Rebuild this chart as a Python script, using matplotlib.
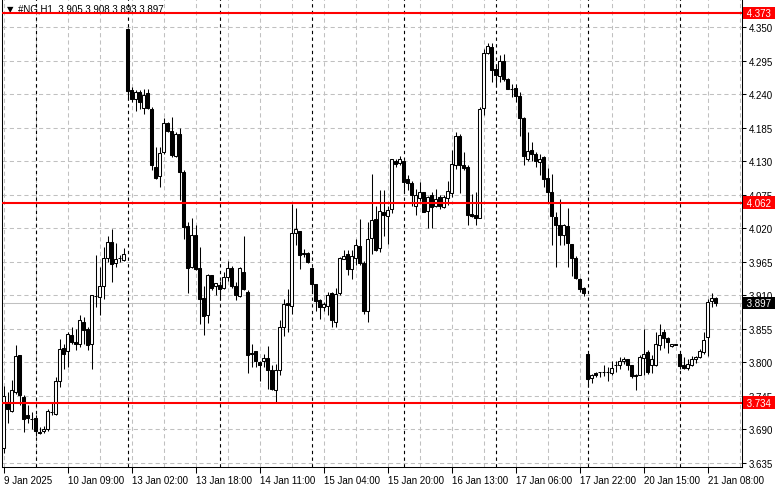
import numpy as np
import pandas as pd
import matplotlib
matplotlib.use("Agg")
import matplotlib.pyplot as plt
import matplotlib.transforms as mtransforms

plt.rcParams['font.family'] = ['Liberation Sans', 'DejaVu Sans']

# NG H1 candles, 9 Jan 16:00 -> 21 Jan 10:00
symbol = "#NG,H1"
opens = [3.660, 3.735, 3.721, 3.751, 3.812, 3.743, 3.713, 3.708, 3.709, 3.686,
         3.687, 3.690, 3.718, 3.716, 3.770, 3.823, 3.819, 3.845, 3.834, 3.830,
         3.867, 3.855, 3.830, 3.909, 3.907, 3.925, 3.971, 3.997, 3.963, 3.971,
         3.968, 4.347, 4.247, 4.232, 4.243, 4.217, 4.242, 4.216, 4.120, 4.106,
         4.145, 4.193, 4.179, 4.138, 4.175, 4.113, 4.024, 3.956, 4.009, 3.955,
         3.905, 3.878, 3.943, 3.926, 3.927, 3.922, 3.940, 3.955, 3.926, 3.909,
         3.949, 3.916, 3.815, 3.818, 3.801, 3.802, 3.807, 3.787, 3.755, 3.787,
         3.858, 3.898, 3.892, 4.012, 4.016, 3.979, 3.980, 3.955, 3.928, 3.902,
         3.891, 3.893, 3.913, 3.866, 3.913, 3.970, 3.977, 3.953, 3.971, 3.991,
         3.963, 3.884, 4.004, 4.035, 3.988, 4.046, 4.040, 4.051, 4.131, 4.127,
         4.130, 4.100, 4.095, 4.057, 4.070, 4.079, 4.048, 4.074, 4.057, 4.072,
         4.055, 4.069, 4.077, 4.123, 4.171, 4.123, 4.120, 4.044, 4.041, 4.037,
         4.217, 4.308, 4.317, 4.281, 4.270, 4.294, 4.265, 4.249, 4.250, 4.237,
         4.201, 4.134, 4.149, 4.142, 4.129, 4.137, 4.102, 4.079, 4.038, 4.025,
         4.009, 4.024, 3.994, 3.971, 3.937, 3.922, 3.814, 3.774, 3.783, 3.784,
         3.784, 3.784, 3.783, 3.795, 3.796, 3.802, 3.805, 3.795, 3.779, 3.780,
         3.807, 3.817, 3.796, 3.795, 3.829, 3.850, 3.840, 3.827, 3.829, 3.814,
         3.795, 3.791, 3.795, 3.805, 3.809, 3.817, 3.841, 3.900, 3.905]
highs = [3.762, 3.751, 3.771, 3.828, 3.812, 3.746, 3.730, 3.719, 3.713, 3.694,
         3.696, 3.724, 3.735, 3.776, 3.839, 3.831, 3.850, 3.858, 3.855, 3.877,
         3.874, 3.858, 3.911, 3.976, 3.956, 3.989, 4.008, 4.018, 3.995, 3.976,
         3.988, 4.348, 4.252, 4.246, 4.247, 4.248, 4.249, 4.219, 4.153, 4.153,
         4.200, 4.194, 4.202, 4.178, 4.184, 4.115, 4.030, 4.036, 4.025, 3.989,
         3.926, 3.945, 3.944, 3.930, 3.934, 3.948, 3.966, 3.958, 3.932, 3.956,
         4.007, 3.918, 3.831, 3.818, 3.803, 3.813, 3.827, 3.795, 3.798, 3.869,
         3.904, 3.921, 4.059, 4.053, 4.016, 3.986, 3.981, 3.956, 3.929, 3.904,
         3.899, 3.916, 3.916, 3.922, 3.973, 3.984, 3.985, 3.984, 4.003, 4.035,
         3.967, 4.031, 4.109, 4.056, 4.082, 4.082, 4.057, 4.134, 4.134, 4.138,
         4.131, 4.107, 4.098, 4.085, 4.096, 4.080, 4.073, 4.080, 4.084, 4.074,
         4.075, 4.097, 4.149, 4.177, 4.175, 4.145, 4.123, 4.076, 4.079, 4.219,
         4.314, 4.324, 4.324, 4.287, 4.304, 4.306, 4.266, 4.257, 4.257, 4.244,
         4.202, 4.177, 4.161, 4.145, 4.142, 4.138, 4.119, 4.109, 4.047, 4.068,
         4.027, 4.053, 3.994, 3.974, 3.938, 3.924, 3.814, 3.781, 3.785, 3.785,
         3.796, 3.792, 3.803, 3.803, 3.809, 3.809, 3.806, 3.795, 3.781, 3.812,
         3.855, 3.820, 3.812, 3.850, 3.863, 3.854, 3.842, 3.831, 3.830, 3.814,
         3.809, 3.805, 3.811, 3.810, 3.822, 3.850, 3.904, 3.913, 3.908]
lows = [3.652, 3.700, 3.719, 3.749, 3.730, 3.686, 3.700, 3.691, 3.680, 3.683,
        3.685, 3.688, 3.713, 3.713, 3.760, 3.790, 3.792, 3.831, 3.820, 3.825,
        3.831, 3.820, 3.789, 3.891, 3.877, 3.904, 3.965, 3.932, 3.956, 3.965,
        3.967, 4.232, 4.227, 4.213, 4.216, 4.208, 4.216, 4.115, 4.101, 4.088,
        4.142, 4.178, 4.137, 4.137, 4.066, 4.003, 3.914, 3.954, 3.951, 3.863,
        3.845, 3.865, 3.918, 3.910, 3.905, 3.921, 3.934, 3.922, 3.902, 3.907,
        3.918, 3.783, 3.792, 3.792, 3.770, 3.792, 3.757, 3.754, 3.735, 3.779,
        3.844, 3.850, 3.880, 3.992, 3.953, 3.973, 3.963, 3.913, 3.885, 3.872,
        3.885, 3.877, 3.858, 3.858, 3.910, 3.969, 3.943, 3.937, 3.959, 3.959,
        3.880, 3.866, 3.977, 3.982, 3.981, 4.008, 3.994, 4.045, 4.120, 4.124,
        4.077, 4.082, 4.056, 4.041, 4.064, 4.046, 4.020, 4.020, 4.055, 4.052,
        4.053, 4.058, 4.071, 4.117, 4.077, 4.115, 4.025, 4.038, 4.025, 4.036,
        4.205, 4.305, 4.260, 4.252, 4.260, 4.261, 4.248, 4.235, 4.227, 4.172,
        4.123, 4.131, 4.131, 4.120, 4.107, 4.088, 4.063, 3.992, 3.956, 3.992,
        3.992, 3.956, 3.942, 3.937, 3.916, 3.909, 3.760, 3.767, 3.776, 3.776,
        3.778, 3.769, 3.780, 3.785, 3.790, 3.798, 3.788, 3.774, 3.754, 3.779,
        3.780, 3.781, 3.783, 3.794, 3.821, 3.823, 3.816, 3.825, 3.828, 3.790,
        3.790, 3.787, 3.794, 3.799, 3.807, 3.813, 3.811, 3.891, 3.893]
closes = [3.745, 3.724, 3.754, 3.811, 3.746, 3.708, 3.709, 3.707, 3.687, 3.685,
          3.691, 3.721, 3.719, 3.769, 3.822, 3.814, 3.847, 3.834, 3.830, 3.869,
          3.853, 3.828, 3.910, 3.909, 3.925, 3.971, 3.997, 3.962, 3.970, 3.972,
          3.978, 4.245, 4.232, 4.244, 4.227, 4.239, 4.217, 4.123, 4.102, 4.144,
          4.193, 4.179, 4.140, 4.175, 4.112, 4.022, 3.955, 4.009, 3.953, 3.904,
          3.876, 3.944, 3.922, 3.930, 3.920, 3.940, 3.954, 3.926, 3.911, 3.954,
          3.920, 3.812, 3.814, 3.802, 3.795, 3.807, 3.787, 3.756, 3.787, 3.858,
          3.896, 3.894, 4.012, 4.018, 3.976, 3.978, 3.965, 3.928, 3.900, 3.891,
          3.896, 3.911, 3.869, 3.912, 3.971, 3.974, 3.953, 3.974, 3.992, 3.963,
          3.885, 4.003, 4.034, 3.985, 4.048, 4.041, 4.050, 4.133, 4.125, 4.133,
          4.096, 4.095, 4.075, 4.075, 4.080, 4.047, 4.071, 4.055, 4.068, 4.056,
          4.071, 4.081, 4.125, 4.171, 4.123, 4.118, 4.042, 4.040, 4.037, 4.216,
          4.308, 4.319, 4.279, 4.271, 4.295, 4.265, 4.249, 4.248, 4.237, 4.201,
          4.138, 4.147, 4.142, 4.130, 4.134, 4.100, 4.079, 4.040, 4.025, 4.009,
          4.026, 3.995, 3.971, 3.938, 3.920, 3.913, 3.773, 3.780, 3.780, 3.784,
          3.784, 3.785, 3.791, 3.795, 3.802, 3.806, 3.795, 3.778, 3.778, 3.809,
          3.814, 3.785, 3.806, 3.831, 3.845, 3.840, 3.833, 3.831, 3.829, 3.794,
          3.791, 3.798, 3.805, 3.809, 3.818, 3.836, 3.899, 3.905, 3.897]

session_days = ["2025-01-09", "2025-01-10", "2025-01-13", "2025-01-14", "2025-01-15",
                "2025-01-16", "2025-01-17", "2025-01-20", "2025-01-21"]
level_lines = [4.373, 4.062, 3.734]
bid = 3.897
price_ticks = [4.350, 4.295, 4.240, 4.185, 4.130, 4.075, 4.020, 3.965,
               3.910, 3.855, 3.800, 3.745, 3.690, 3.635]

# bar times: first day starts 16:00, sessions run 01:00-23:00, last day ends 10:00
times = []
for k, d in enumerate(session_days):
    h0 = 16 if k == 0 else 1
    h1 = 10 if k == len(session_days) - 1 else 23
    for h in range(h0, h1 + 1):
        times.append(pd.Timestamp(d) + pd.Timedelta(hours=h))

O = np.array(opens)
H = np.array(highs)
L = np.array(lows)
C = np.array(closes)
n = len(O)
x = np.arange(n)

fs = 7

fig = plt.figure(figsize=(7.81, 4.89), dpi=100)
ax = fig.add_axes([2 / 781, 21 / 489, 740 / 781, 468 / 489])
ax.set_xlim(-0.375, 184.625)
ax.set_ylim(3.6285, 4.3959)

# grid
for k in range(0, 185, 8):
    ax.axvline(k, color='#c0c0c0', lw=0.75, ls=(0, (4, 3)), zorder=0)
for p in price_ticks:
    ax.axhline(p, color='#c0c0c0', lw=0.75, ls=(0, (4, 3)), zorder=0)

# day separators
for i in range(1, n):
    if times[i].date() != times[i - 1].date():
        ax.axvline(i, color='black', lw=0.8, ls=(0, (3, 3)), zorder=1)

# bid line
ax.axhline(bid, color='#c0c0c0', lw=0.75, zorder=1)

# candles
up = C >= O
ax.vlines(x, L, H, color='black', lw=0.75, zorder=2)
body_bot = np.minimum(O, C)
body_h = np.maximum(np.abs(C - O), 0.0004)
ax.bar(x, body_h, 0.75, bottom=body_bot, color=np.where(up, 'white', 'black'),
       edgecolor='black', linewidth=0.75, zorder=3)

# levels
for lv in level_lines:
    ax.axhline(lv, color='#ff0000', lw=1.5, zorder=5)

# axes
for s in ['left', 'right', 'bottom']:
    ax.spines[s].set_color('black')
    ax.spines[s].set_linewidth(0.75)
ax.spines['top'].set_visible(False)

ax.yaxis.tick_right()
ax.set_yticks(price_ticks)
ax.set_yticklabels([f"{p:.3f}" for p in price_ticks])
ax.tick_params(axis='y', direction='out', length=3, width=0.75, pad=2, labelsize=fs, colors='black')

tick_idx = list(range(0, n, 16))
tick_lbl = []
for i in tick_idx:
    t = times[i]
    if i == 0:
        tick_lbl.append(f"{t.day} {t.strftime('%b %Y')}")
    else:
        tick_lbl.append(f"{t.day} {t.strftime('%b %H:%M')}")
ax.set_xticks(tick_idx)
ax.set_xticklabels(tick_lbl)
ax.tick_params(axis='x', direction='out', length=4, width=0.75, pad=2, labelsize=fs, colors='black')
for lab in ax.get_xticklabels():
    lab.set_ha('left')

# price boxes on the right scale
trans = mtransforms.blended_transform_factory(ax.transAxes, ax.transData)
for lv in level_lines:
    ax.text(1.0032, lv, f" {lv:.3f} ", transform=trans, color='white', fontsize=fs,
            va='center', ha='left', zorder=10, clip_on=False,
            bbox=dict(boxstyle='square,pad=0.12', fc='#ff0000', ec='none'))
ax.text(1.0032, bid, f" {bid:.3f} ", transform=trans, color='white', fontsize=fs,
        va='center', ha='left', zorder=10, clip_on=False,
        bbox=dict(boxstyle='square,pad=0.12', fc='black', ec='none'))

# header
ax.text(5 / 740, 1 - 10 / 468, "\u25bc", transform=ax.transAxes, fontsize=6,
        family='DejaVu Sans', va='center', ha='left', color='black', zorder=4)
ax.text(16 / 740, 1 - 10 / 468,
        f"{symbol}  {O[-1]:.3f} {H[-1]:.3f} {L[-1]:.3f} {C[-1]:.3f}",
        transform=ax.transAxes, fontsize=fs, va='center', ha='left', color='black', zorder=4)

fig.savefig("out.png", dpi=100)
